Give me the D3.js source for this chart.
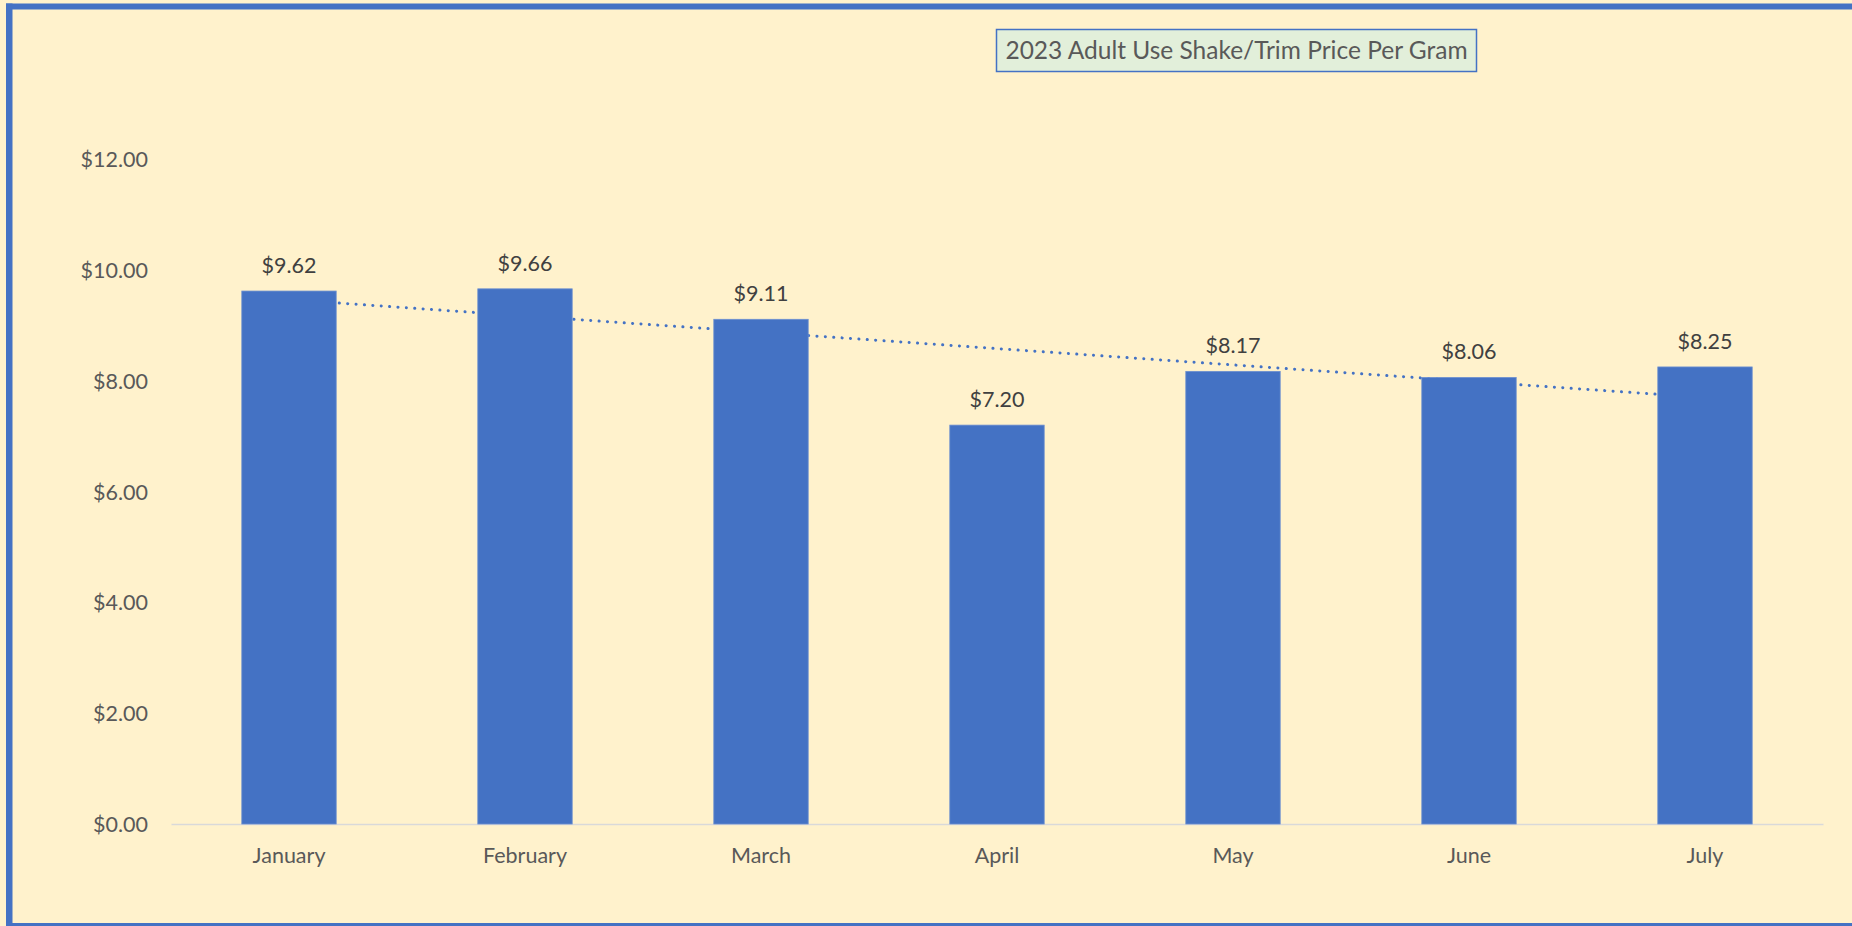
<!DOCTYPE html>
<html>
<head>
<meta charset="utf-8">
<script src="https://cdn.jsdelivr.net/npm/d3@7"></script>
<style>
  html, body { margin: 0; padding: 0; background: #FFF2CC; overflow: hidden; }
  svg { display: block; }
  text { font-family: Lato, "Open Sans", sans-serif; }
</style>
</head>
<body>
<script>
const months = ["January", "February", "March", "April", "May", "June", "July"];
const prices = [9.62, 9.66, 9.11, 7.20, 8.17, 8.06, 8.25];
const yTicks = [0, 2, 4, 6, 8, 10, 12];
const titleText = "2023 Adult Use Shake/Trim Price Per Gram";

const W = 1852, H = 926;
const svg = d3.select("body").append("svg").attr("width", W).attr("height", H);

// background
svg.append("rect").attr("x", 0).attr("y", 0).attr("width", W).attr("height", H).attr("fill", "#FFF2CC");

// border (top, left, bottom)
svg.append("rect").attr("x", 6).attr("y", 3.5).attr("width", W - 6).attr("height", 6).attr("fill", "#4472C4");
svg.append("rect").attr("x", 6).attr("y", 3.5).attr("width", 6.5).attr("height", H - 3.5).attr("fill", "#4472C4");
svg.append("rect").attr("x", 6).attr("y", 923).attr("width", W - 6).attr("height", 3).attr("fill", "#4472C4");

const x = d3.scaleBand().domain(months).range([171, 1823]).paddingInner(0.6).paddingOuter(0.3);
const y = d3.scaleLinear().domain([0, 12]).range([824, 159.2]);

const FS = 21.5;

// y axis labels
const yAxis = d3.axisLeft(y).tickValues(yTicks).tickFormat(d => "$" + d3.format(".2f")(d)).tickSize(0).tickPadding(0);
const yg = svg.append("g").attr("transform", "translate(148,0)").call(yAxis);
yg.select(".domain").remove();
yg.selectAll("text").attr("fill", "#595959").attr("font-size", FS).attr("font-family", "Lato, sans-serif").attr("dy", "0.35em");

// trendline (linear regression) drawn behind bars
const n = prices.length;
const xs = d3.range(1, n + 1);
const mx = d3.mean(xs), my = d3.mean(prices);
const slope = d3.sum(xs.map((xi, i) => (xi - mx) * (prices[i] - my))) / d3.sum(xs.map(xi => (xi - mx) ** 2));
const icpt = my - slope * mx;
const trend = months.map((m, i) => [x(m) + x.bandwidth() / 2, y(icpt + slope * (i + 1))]);
svg.append("path")
  .attr("d", d3.line()(trend))
  .attr("fill", "none")
  .attr("stroke", "#4472C4")
  .attr("stroke-width", 3)
  .attr("stroke-linecap", "round")
  .attr("stroke-dasharray", "0.1 8.3");

// x axis line
const xAxis = d3.axisBottom(x).tickSize(0).tickPadding(0);
const xg = svg.append("g").attr("transform", "translate(0,824)").call(xAxis);
xg.select(".domain").attr("stroke", "#D9D9D9").attr("stroke-width", 1.5);
xg.selectAll("text").attr("fill", "#595959").attr("font-size", FS).attr("font-family", "Lato, sans-serif").attr("dy", 0).attr("y", 39);

// bars
svg.append("g").selectAll("rect").data(prices).join("rect")
  .attr("x", (d, i) => x(months[i]))
  .attr("y", d => y(d))
  .attr("width", x.bandwidth())
  .attr("height", d => y(0) - y(d))
  .attr("fill", "#4472C4")
  .attr("stroke", "#6C8FD0")
  .attr("stroke-width", 0.8);

// data labels
svg.append("g").selectAll("text").data(prices).join("text")
  .attr("x", (d, i) => x(months[i]) + x.bandwidth() / 2)
  .attr("y", d => y(d) - 18)
  .attr("text-anchor", "middle")
  .attr("fill", "#404040")
  .attr("font-size", FS)
  .text(d => "$" + d3.format(".2f")(d));

// title box
const tg = svg.append("g");
tg.append("rect").attr("x", 996.5).attr("y", 29.5).attr("width", 480).attr("height", 42)
  .attr("fill", "#E2EFDA").attr("stroke", "#4472C4").attr("stroke-width", 1.5);
tg.append("text").attr("x", 1236.5).attr("y", 50.5).attr("dy", "0.35em").attr("text-anchor", "middle")
  .attr("fill", "#595959").attr("font-size", 24.5).text(titleText);
</script>
</body>
</html>
